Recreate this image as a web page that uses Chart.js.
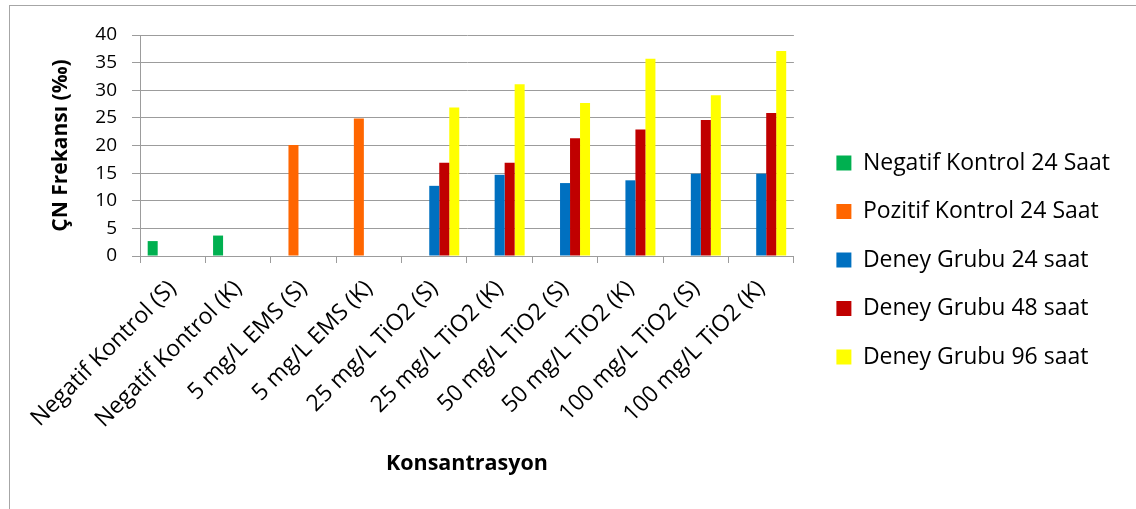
<!DOCTYPE html>
<html>
<head>
<meta charset="utf-8">
<script src="https://cdn.jsdelivr.net/npm/chart.js@4"></script>
<style>
  html, body { margin: 0; padding: 0; background: #ffffff; }
  #wrap { position: relative; width: 1136px; height: 509px; overflow: hidden; }
  #frame { position: absolute; left: 9px; top: 5px; width: 1200px; height: 600px; border: 1px solid #a6a6a6; }
  #c { position: absolute; left: 0; top: 0; }
</style>
</head>
<body>
<div id="wrap">
  <div id="frame"></div>
  <canvas id="c" width="1136" height="509"></canvas>
</div>
<script>
// Micronucleus frequency (‰) per concentration group
const categories = [
  'Negatif Kontrol (S)', 'Negatif Kontrol (K)',
  '5 mg/L EMS (S)', '5 mg/L EMS (K)',
  '25 mg/L TiO2 (S)', '25 mg/L TiO2 (K)',
  '50 mg/L TiO2 (S)', '50 mg/L TiO2 (K)',
  '100 mg/L TiO2 (S)', '100 mg/L TiO2 (K)'
];
const negatifKontrol24 = [2.7, 3.7, null, null, null, null, null, null, null, null];
const pozitifKontrol24 = [null, null, 20.1, 24.9, null, null, null, null, null, null];
const deneyGrubu24 = [null, null, null, null, 12.7, 14.7, 13.2, 13.7, 14.9, 14.9];
const deneyGrubu48 = [null, null, null, null, 16.9, 16.9, 21.3, 22.9, 24.6, 25.9];
const deneyGrubu96 = [null, null, null, null, 26.9, 31.1, 27.7, 35.7, 29.1, 37.1];
const yTicks = [0, 5, 10, 15, 20, 25, 30, 35, 40];

const FONT = "'Open Sans', 'Liberation Sans', sans-serif";
const GRID = '#9c9c9c';

function series(label, data, color) {
  return { label, data, backgroundColor: color, borderColor: color, borderWidth: 0 };
}

new Chart(document.getElementById('c'), {
  type: 'bar',
  data: {
    labels: categories,
    datasets: [
      series('Negatif Kontrol 24 Saat', negatifKontrol24, '#00B050'),
      series('Pozitif Kontrol 24 Saat', pozitifKontrol24, '#FF6600'),
      series('Deney Grubu 24 saat', deneyGrubu24, '#0070C0'),
      series('Deney Grubu 48 saat', deneyGrubu48, '#C00000'),
      series('Deney Grubu 96 saat', deneyGrubu96, '#FFFF00')
    ]
  },
  options: {
    responsive: false,
    animation: false,
    devicePixelRatio: 1,
    categoryPercentage: 0.765,
    barPercentage: 1.0,
    layout: { padding: { top: 35, bottom: 24, left: 10, right: 16 } },
    plugins: {
      legend: {
        position: 'right',
        maxWidth: 360,
        labels: {
          boxWidth: 15,
          boxHeight: 15,
          padding: 25.5,
          color: '#000000',
          font: { family: FONT, size: 23 }
        }
      },
      tooltip: { enabled: false }
    },
    scales: {
      x: {
        grid: { display: true, drawOnChartArea: false, drawTicks: true, tickLength: 7, color: GRID, offset: true },
        border: { display: true, color: GRID },
        ticks: {
          autoSkip: false, minRotation: 45, maxRotation: 45, padding: 12,
          color: '#000000', font: { family: FONT, size: 23 }
        },
        title: {
          display: true, text: 'Konsantrasyon', color: '#000000',
          font: { family: FONT, size: 21.5, weight: 'bold' },
          padding: { top: 4, bottom: 8.5 }
        },
        afterFit(s) { s.height = 229; }
      },
      y: {
        min: 0, max: 40,
        afterBuildTicks(s) { s.ticks = yTicks.map(v => ({ value: v })); },
        grid: { color: GRID, tickLength: 8 },
        border: { display: true, color: GRID },
        ticks: { padding: 15, color: '#000000', font: { family: FONT, size: 19 } },
        title: {
          display: true, text: 'ÇN Frekansı (‰)', color: '#000000',
          font: { family: FONT, size: 21, weight: 'bold' },
          padding: { top: 38, bottom: 4 }
        },
        afterFit(s) { s.width = 130; }
      },
      gap: {
        type: 'linear', position: 'right', display: true,
        grid: { display: false }, border: { display: false }, ticks: { display: false },
        afterFit(s) { s.width = 17; }
      }
    }
  }
});
</script>
</body>
</html>
